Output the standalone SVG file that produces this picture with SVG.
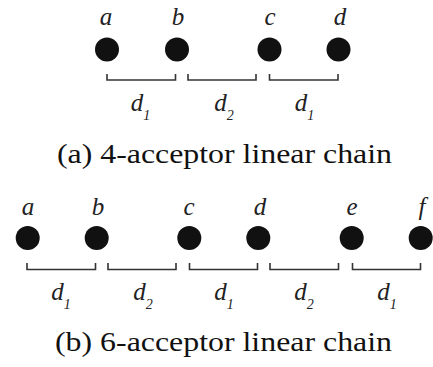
<svg xmlns="http://www.w3.org/2000/svg" width="433" height="367" viewBox="0 0 433 367">
<style>
.dot{fill:#111}
.lbl{font-style:italic;font-size:25px;fill:#222;text-anchor:middle}
.dl{font-style:italic;font-size:25px;fill:#222;text-anchor:middle}
.sub{font-size:14px}
.br{fill:none;stroke:#333;stroke-width:1.6}
.cap{font-size:27px;fill:#111}
</style>
<rect width="433" height="367" fill="#fff"/>
<g font-family="Liberation Serif, serif">
<g id="chain-a">
  <g id="a1"><text class="lbl" x="106" y="25">a</text><circle class="dot" cx="107" cy="49.5" r="12"/></g>
  <g id="b1"><text class="lbl" x="178" y="25">b</text><circle class="dot" cx="177" cy="49.5" r="12"/></g>
  <g id="c1"><text class="lbl" x="270" y="25">c</text><circle class="dot" cx="269.5" cy="49.5" r="12"/></g>
  <g id="d1"><text class="lbl" x="340" y="25">d</text><circle class="dot" cx="338.5" cy="49.5" r="12"/></g>
</g>
<g id="brackets-a">
  <path class="br" d="M107,74 V80 H175.5 V74"/>
  <path class="br" d="M188,74 V80 H256 V74"/>
  <path class="br" d="M269.5,74 V80 H338 V74"/>
</g>
<g id="dist-a">
  <text class="dl" x="140.5" y="111">d<tspan class="sub" dy="9">1</tspan></text>
  <text class="dl" x="224" y="111">d<tspan class="sub" dy="9">2</tspan></text>
  <text class="dl" x="304.5" y="111">d<tspan class="sub" dy="9">1</tspan></text>
</g>
<text class="cap" x="57" y="163" textLength="335" lengthAdjust="spacingAndGlyphs">(a) 4-acceptor linear chain</text>

<g id="chain-b">
  <g id="a2"><text class="lbl" x="28" y="215">a</text><circle class="dot" cx="27.7" cy="238" r="12"/></g>
  <g id="b2"><text class="lbl" x="98" y="215">b</text><circle class="dot" cx="96.7" cy="238" r="12"/></g>
  <g id="c2"><text class="lbl" x="189" y="215">c</text><circle class="dot" cx="189.3" cy="238" r="12"/></g>
  <g id="d2"><text class="lbl" x="260" y="215">d</text><circle class="dot" cx="258.3" cy="238" r="12"/></g>
  <g id="e2"><text class="lbl" x="352" y="215">e</text><circle class="dot" cx="351.7" cy="238" r="12"/></g>
  <g id="f2"><text class="lbl" x="422" y="215">f</text><circle class="dot" cx="420.7" cy="238" r="12"/></g>
</g>
<g id="brackets-b">
  <path class="br" d="M27,263 V269.5 H95.5 V263"/>
  <path class="br" d="M108,263 V269.5 H176 V263"/>
  <path class="br" d="M189.5,263 V269.5 H257.5 V263"/>
  <path class="br" d="M270,263 V269.5 H338.5 V263"/>
  <path class="br" d="M352.5,263 V269.5 H420.5 V263"/>
</g>
<g id="dist-b">
  <text class="dl" x="61" y="300">d<tspan class="sub" dy="9">1</tspan></text>
  <text class="dl" x="143" y="300">d<tspan class="sub" dy="9">2</tspan></text>
  <text class="dl" x="224" y="300">d<tspan class="sub" dy="9">1</tspan></text>
  <text class="dl" x="304" y="300">d<tspan class="sub" dy="9">2</tspan></text>
  <text class="dl" x="387" y="300">d<tspan class="sub" dy="9">1</tspan></text>
</g>
<text class="cap" x="55" y="351" textLength="337" lengthAdjust="spacingAndGlyphs">(b) 6-acceptor linear chain</text>
</g>
</svg>
